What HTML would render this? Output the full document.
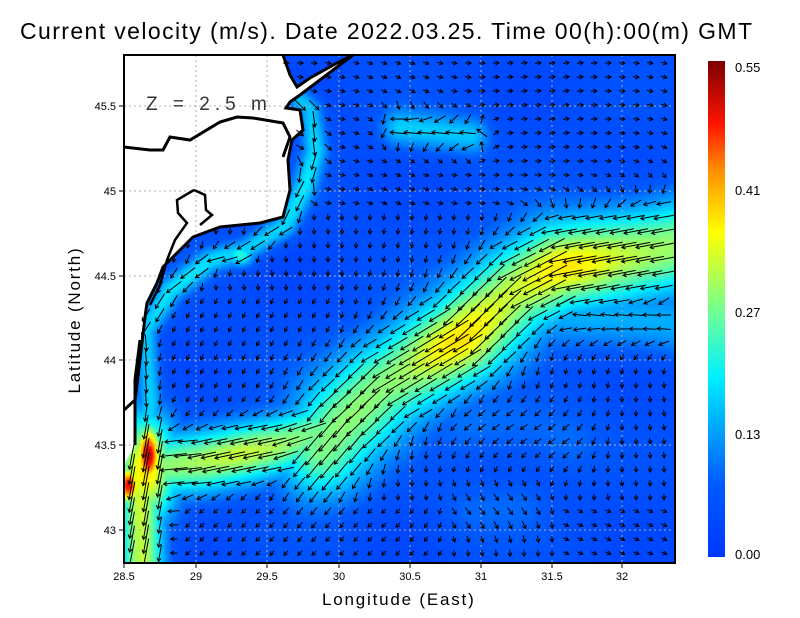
<!DOCTYPE html>
<html><head><meta charset="utf-8"><style>
body{margin:0;background:#fff;width:800px;height:618px;overflow:hidden;position:relative;font-family:"Liberation Sans",sans-serif}
.t{position:absolute;white-space:nowrap;color:#000}
canvas{position:absolute}
svg{position:absolute;left:0;top:0}
</style></head><body>
<div class="t" style="left:20px;top:18px;font-size:23px;letter-spacing:1.4px">Current velocity (m/s). Date 2022.03.25. Time 00(h):00(m) GMT</div>
<canvas id="c" width="551" height="508" style="left:124px;top:55px"></canvas>
<svg id="s" width="800" height="618"></svg>
<div class="t" style="left:322px;top:590px;font-size:17px;letter-spacing:1.8px">Longitude (East)</div>
<div class="t" style="top:310px;font-size:17px;letter-spacing:1.8px;transform:rotate(-90deg);transform-origin:center;width:150px;text-align:center;left:0px">Latitude (North)</div>
<script>
const X0=124,Y0=55,W=551,H=508;
const bands=[
 {p:[[320,450],[345,420],[380,387],[463,337],[513,290],[557,267],[675,245]],w:34,v:0.24,vp:[[455,340,0.09],[560,268,0.09]]},
 {p:[[124,470],[200,462],[280,445],[340,425]],w:22,v:0.22,vp:[[250,452,0.06]]},
 {p:[[135,560],[140,470],[150,400],[145,330],[170,290],[210,260],[245,250],[285,225],[305,185],[315,150],[310,110],[300,100]],w:9,v:0.13},
 {p:[[540,310],[675,325]],w:24,v:0.1},
 {p:[[470,420],[560,440]],w:30,v:0.05},
 {p:[[400,128],[470,135]],w:14,v:0.12},
 {p:[[140,480],[142,570]],w:16,v:0.28},
 {p:[[520,500],[470,510]],w:25,v:0.04}
];
// x,y,sx,sy,v
const spots=[[148,455,9,22,0.46],[128,485,9,14,0.44],[145,470,22,40,0.32],[240,255,10,8,0.18]];
function segd(x,y,a,b){const dx=b[0]-a[0],dy=b[1]-a[1];let t=((x-a[0])*dx+(y-a[1])*dy)/(dx*dx+dy*dy);t=Math.max(0,Math.min(1,t));const px=a[0]+t*dx,py=a[1]+t*dy;return [Math.hypot(x-px,y-py),dx,dy];}
function field(x,y){let base=0.05+0.015*Math.sin(x/37)*Math.cos(y/29);let s=base,wj=0,tan=[0,0];
 for(const b of bands){let md=1e9,td=null;for(let i=0;i<b.p.length-1;i++){const r=segd(x,y,b.p[i],b.p[i+1]);if(r[0]<md){md=r[0];td=r;}}
  let v=b.v;if(b.vp)for(const q of b.vp){v+=q[2]*Math.exp(-((x-q[0])**2+(y-q[1])**2)/3000);}
  const g=Math.exp(-md*md/(2*b.w*b.w));s=Math.max(s,base+v*g);if(g*v>wj){wj=g*v;tan=[-td[1],-td[2]];}}
 for(const q of spots){s=Math.max(s,base+q[4]*Math.exp(-((x-q[0])**2/(2*q[2]*q[2])+(y-q[1])**2/(2*q[3]*q[3]))));}
 return [s,wj,tan];}
const stops=[[0,[0,55,255]],[0.08,[0,90,255]],[0.13,[0,150,255]],[0.2,[0,240,255]],[0.27,[110,255,150]],[0.36,[255,255,0]],[0.43,[255,140,0]],[0.48,[255,20,0]],[0.55,[125,0,0]]];
function cm(v){if(v<=0)return stops[0][1];for(let i=0;i<stops.length-1;i++){const a=stops[i],b=stops[i+1];if(v<=b[0]){const t=(v-a[0])/(b[0]-a[0]);return a[1].map((c,k)=>Math.round(c+(b[1][k]-c)*t));}}return stops[stops.length-1][1];}
const cv=document.getElementById('c'),ctx=cv.getContext('2d');
const img=ctx.createImageData(W,H);
for(let j=0;j<H;j++)for(let i=0;i<W;i++){const x=i+X0,y=j+Y0;const c=cm(field(x,y)[0]);const k=(j*W+i)*4;img.data[k]=c[0];img.data[k+1]=c[1];img.data[k+2]=c[2];img.data[k+3]=255;}
ctx.putImageData(img,0,0);
const land=[[124,55],[283,55],[290,75],[297,87],[310,78],[337,63],[353,55],[300,95],[290,102],[286,108],[300,110],[303,130],[292,140],[288,160],[290,190],[283,217],[260,223],[220,227],[193,237],[180,250],[163,267],[157,283],[147,303],[145,317],[140,360],[135,400],[135,445],[124,465]];
ctx.beginPath();land.forEach((p,i)=>{i?ctx.lineTo(p[0]-X0,p[1]-Y0):ctx.moveTo(p[0]-X0,p[1]-Y0)});ctx.closePath();ctx.fillStyle='#fff';ctx.fill();
const path=new Path2D();land.forEach((p,i)=>{i?path.lineTo(p[0]-X0,p[1]-Y0):path.moveTo(p[0]-X0,p[1]-Y0)});path.closePath();
let h='<defs><clipPath id="cp"><rect x="124" y="55" width="551" height="508"/></clipPath>';
h+='<linearGradient id="g" x1="0" y1="1" x2="0" y2="0">'+stops.map(s=>`<stop offset="${s[0]/0.55}" stop-color="rgb(${s[1].join(',')})"/>`).join('')+'</linearGradient></defs>';
const lx=[[28.5,124],[29,196],[29.5,267],[30,339],[30.5,410],[31,481],[31.5,552],[32,622]];
const ly=[[45.5,106],[45,191],[44.5,276],[44,360],[43.5,445],[43,530]];
for(const [v,x] of lx.slice(1))h+=`<line x1="${x}" y1="55" x2="${x}" y2="563" stroke="#b0b0b0" stroke-dasharray="2,3"/>`;
for(const [v,y] of ly)h+=`<line x1="124" y1="${y}" x2="675" y2="${y}" stroke="#b0b0b0" stroke-dasharray="2,3"/>`;
h+='<g clip-path="url(#cp)">';
for(let y=Y0+8;y<Y0+H;y+=14)for(let x=X0+8;x<X0+W;x+=14){
 if(ctx.isPointInPath(path,x-X0,y-Y0))continue;
 const f=field(x,y);let s=f[0];
 let a;if(y<210)a=0.1+0.25*Math.sin(x/50);else if(y<500)a=Math.PI/2+0.15*Math.sin(x/40+y/60);else a=(x<450?2.3:(x>560?0.4:1.6));
 if(x<330&&y>300&&y<500)a=2.0;
 if(x<170&&y>420)a=1.75;
 const wj=Math.min(1,f[1]/0.1);if(wj>0&&!(x<170&&y>420)){const ta=Math.atan2(f[2][1],f[2][0]);let d=ta-a;while(d>Math.PI)d-=2*Math.PI;while(d<-Math.PI)d+=2*Math.PI;a=a+d*wj;}
 const L=Math.max(6,Math.min(34,s*95));
 const ex=x+L*Math.cos(a)/2,ey=y+L*Math.sin(a)/2,sx=x-L*Math.cos(a)/2,sy=y-L*Math.sin(a)/2;
 const h1=a+2.6,h2=a-2.6;
 h+=`<path d="M${sx.toFixed(1)} ${sy.toFixed(1)}L${ex.toFixed(1)} ${ey.toFixed(1)}M${(ex+4*Math.cos(h1)).toFixed(1)} ${(ey+4*Math.sin(h1)).toFixed(1)}L${ex.toFixed(1)} ${ey.toFixed(1)}L${(ex+4*Math.cos(h2)).toFixed(1)} ${(ey+4*Math.sin(h2)).toFixed(1)}" stroke="#000" stroke-width="1" fill="none"/>`;}
h+='</g>';
h+=`<polyline points="${land.slice(1,-1).map(p=>p.join(',')).join(' ')}" fill="none" stroke="#000" stroke-width="3"/>`;
h+=`<polyline points="124,147 150,150 163,150 170,137 190,140 220,122 237,117 253,118 283,123 290,137 283,157" fill="none" stroke="#000" stroke-width="3"/>`;
h+=`<polyline points="194,190 177,200 178,213 187,223 175,240 167,260 160,285 150,305" fill="none" stroke="#000" stroke-width="2.5"/>`;
h+=`<polyline points="194,190 205,195 206,210 212,215 200,225" fill="none" stroke="#000" stroke-width="2.5"/>`;
h+=`<polyline points="124,410 135,400 135,380 140,340" fill="none" stroke="#000" stroke-width="3"/>`;
h+=`<text x="146" y="110" font-size="19" font-family="Liberation Sans" fill="#333" letter-spacing="5">Z = 2.5 m</text>`;
h+=`<rect x="124" y="55" width="551" height="508" fill="none" stroke="#000" stroke-width="2"/>`;
for(const [v,x] of lx){h+=`<line x1="${x}" y1="563" x2="${x}" y2="568" stroke="#000"/><text x="${x}" y="580" font-size="11" text-anchor="middle" font-family="Liberation Sans">${v}</text>`;}
for(const [v,y] of ly){h+=`<line x1="119" y1="${y}" x2="124" y2="${y}" stroke="#000"/><text x="116" y="${y+4}" font-size="11" text-anchor="end" font-family="Liberation Sans">${v}</text>`;}
h+=`<rect x="708" y="61" width="17" height="496" fill="url(#g)"/>`;
[['0.55',68],['0.41',191],['0.27',313],['0.13',435],['0.00',555]].forEach(t=>{h+=`<text x="735" y="${t[1]+4}" font-size="13" font-family="Liberation Sans">${t[0]}</text>`;});
document.getElementById('s').innerHTML=h;
</script>
</body></html>
